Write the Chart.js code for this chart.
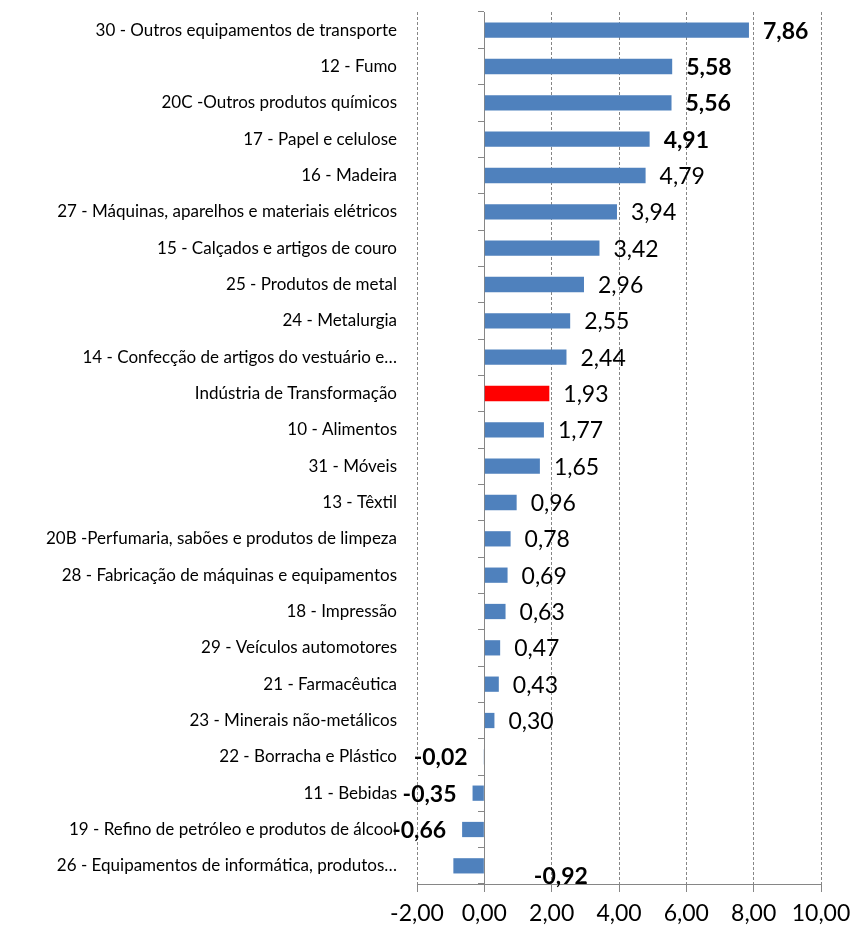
<!DOCTYPE html>
<html>
<head>
<meta charset="utf-8">
<script src="https://cdn.jsdelivr.net/npm/chart.js@4/dist/chart.umd.min.js"></script>
<style>
  html, body { margin: 0; padding: 0; background: #fff; }
  #wrap { width: 856px; height: 930px; }
</style>
</head>
<body>
<div id="wrap"><canvas id="myChart" width="856" height="930"></canvas></div>
<script>
// categories (top to bottom)
const setores = [
  "30 - Outros equipamentos de transporte",
  "12 - Fumo",
  "20C -Outros produtos químicos",
  "17 - Papel e celulose",
  "16 - Madeira",
  "27 - Máquinas, aparelhos e materiais elétricos",
  "15 - Calçados e artigos de couro",
  "25 - Produtos de metal",
  "24 - Metalurgia",
  "14 - Confecção de artigos do vestuário e…",
  "Indústria de Transformação",
  "10 - Alimentos",
  "31 - Móveis",
  "13 - Têxtil",
  "20B -Perfumaria, sabões e produtos de limpeza",
  "28 - Fabricação de máquinas e equipamentos",
  "18 - Impressão",
  "29 - Veículos automotores",
  "21 - Farmacêutica",
  "23 - Minerais não-metálicos",
  "22 - Borracha e Plástico",
  "11 - Bebidas",
  "19 - Refino de petróleo e produtos de álcool",
  "26 - Equipamentos de informática, produtos…"
]
const variacao = [7.86, 5.58, 5.56, 4.91, 4.79, 3.94, 3.42, 2.96, 2.55, 2.44, 1.93, 1.77, 1.65,
  0.96, 0.78, 0.69, 0.63, 0.47, 0.43, 0.30, -0.02, -0.35, -0.66, -0.92]
const xTicks = [-2, 0, 2, 4, 6, 8, 10]

// styles
const destaque = "Indústria de Transformação"
const negrito = [0, 1, 2, 3, 20, 21, 22, 23]
const azul = "#4F81BD"
const vermelho = "#FF0000"
const cinza = "#868686"
const fonteTexto = "Lato, 'Open Sans', sans-serif"

const fmt = v => v.toFixed(2).replace('.', ',')

const rotulosPlugin = {
  id: 'rotulos',
  afterDatasetsDraw(chart) {
    const ctx = chart.ctx
    const meta = chart.getDatasetMeta(0)
    ctx.save()
    ctx.fillStyle = '#000'
    ctx.textBaseline = 'middle'
    meta.data.forEach((bar, i) => {
      const v = variacao[i]
      const bold = negrito.includes(i)
      ctx.font = (bold ? 'bold ' : '') + '23px ' + fonteTexto
      if (i === variacao.length - 1) {
        // label pushed under the bar like in the original
        ctx.textAlign = 'center'
        ctx.fillText(fmt(v), bar.base + 77, bar.y + 11)
      } else if (v >= 0) {
        ctx.textAlign = 'left'
        ctx.fillText(fmt(v), bar.x + 14, bar.y + 1)
      } else {
        ctx.textAlign = 'right'
        ctx.fillText(fmt(v), Math.min(bar.x, bar.base) - 16, bar.y + 1)
      }
    })
    ctx.restore()
  }
}

const semPadding = scale => {
  scale.paddingTop = 0
  scale.paddingBottom = 0
}

const ctx = document.getElementById('myChart')
const myChart = new Chart(ctx, {
  type: 'bar',
  data: {
    labels: setores,
    datasets: [{
      data: variacao,
      backgroundColor: setores.map(s => s === destaque ? vermelho : azul),
      barPercentage: 0.42,
      categoryPercentage: 1,
    }]
  },
  plugins: [rotulosPlugin],
  options: {
    indexAxis: 'y',
    responsive: false,
    animation: false,
    layout: { padding: { top: 12, right: 35, bottom: 0, left: 0 } },
    plugins: {
      legend: { display: false },
      tooltip: { enabled: false },
    },
    scales: {
      x: {
        min: -2,
        max: 10,
        afterBuildTicks: scale => { scale.ticks = xTicks.map(v => ({ value: v })) },
        afterFit: scale => {
          scale.height = 46
          scale.paddingLeft = 0
          scale.paddingRight = 0
        },
        ticks: {
          callback: v => fmt(v),
          color: '#000',
          padding: 8,
          font: { family: fonteTexto, size: 23 },
        },
        grid: { color: cinza, lineWidth: 1, tickLength: 8 },
        border: { display: true, color: cinza, dash: [3, 2] },
      },
      y: {
        afterFit: scale => { scale.width = 417; semPadding(scale) },
        ticks: {
          color: '#000',
          padding: 20,
          autoSkip: false,
          font: { family: fonteTexto, size: 17 },
        },
        grid: { display: false, drawTicks: false },
        border: { display: false },
      },
      y2: {
        type: 'category',
        labels: setores,
        position: { x: 0 },
        offset: true,
        afterFit: semPadding,
        ticks: { display: false },
        grid: { offset: true, drawOnChartArea: false, drawTicks: true, tickLength: 6, color: cinza },
        border: { display: true, color: cinza },
      }
    }
  }
})
</script>
</body>
</html>
